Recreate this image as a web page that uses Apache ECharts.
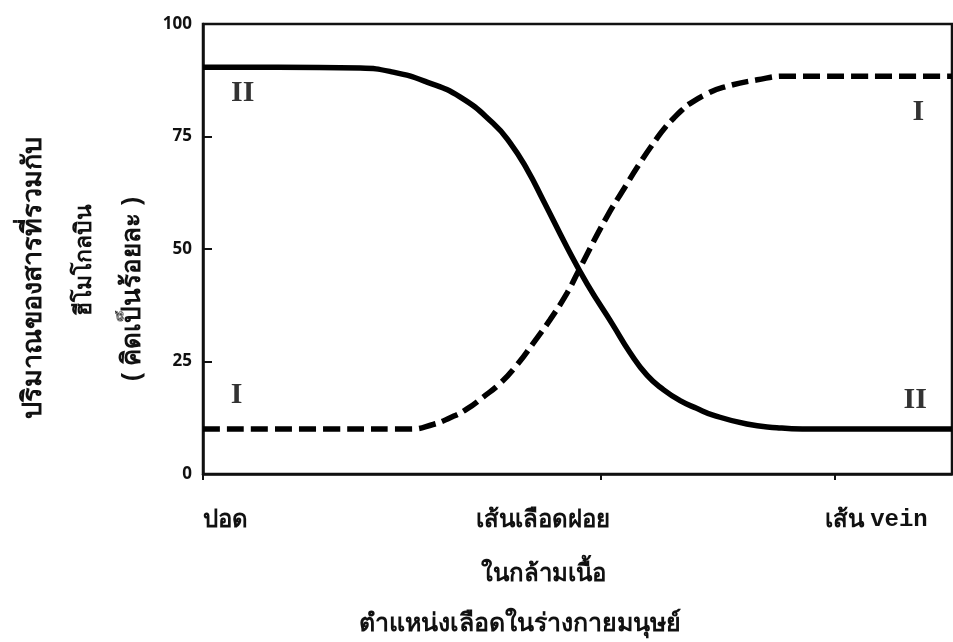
<!DOCTYPE html>
<html>
<head>
<meta charset="utf-8">
<script src="https://cdn.jsdelivr.net/npm/echarts@6/dist/echarts.min.js"></script>
<style>
html,body{margin:0;padding:0;background:#fff;}
#chart{width:953px;height:642px;}
</style>
</head>
<body>
<div id="chart"></div>
<script>
// Curve II (solid): position along blood path (0-100) vs % bound to hemoglobin
const curveII_x = [0, 10, 21.0, 25.4, 29.9, 34.3, 38.7, 41.0, 43.3, 45.4, 48.6, 51.3, 54.7, 57.0, 59.3, 61.5, 63.7, 65.9, 68.1, 72.6, 76.6, 80, 100];
const curveII_y = [90.4, 90.4, 90.2, 89.3, 87.1, 83.8, 78.0, 73.6, 67.6, 60.9, 50.4, 42.2, 33.2, 27.0, 21.9, 18.7, 16.3, 14.6, 13.1, 11.1, 10.3, 10.0, 10.0];
// Curve I (dashed)
const curveI_x = [0, 15, 27.6, 30.7, 33, 35.2, 37.4, 39.7, 41.9, 44.1, 46.3, 48.6, 50.1, 53.9, 56.1, 58.3, 60.6, 61.7, 62.8, 63.9, 65.0, 67.3, 69.4, 74.0, 78.0, 100];
const curveI_y = [10.0, 10.0, 10.0, 11.0, 12.5, 14.4, 17.1, 20.2, 24.2, 29.1, 34.2, 40.2, 45.0, 57.1, 63.1, 69.0, 74.6, 77.0, 79.0, 80.8, 82.3, 84.5, 85.9, 87.6, 88.4, 88.4];
// Curve tags
const tagText = ['II', 'I', 'I', 'II'];
const tagX = [5.3, 95.5, 4.5, 95.1];
const tagY = [84.7, 80.4, 17.6, 16.4];
// Axis labels
const xLabelValues = [3, 45.4, 89.9];
const xLabels = ['{t|ปอด}', '{t|เส้นเลือดฝอย}\n{t|ในกล้ามเนื้อ}', '{t|เส้น }{m|vein}'];
const xTickValues = [0, 53.1, 84.4];
const yTicks = [0, 25, 50, 75, 100];
const yTitleLines = ['ปริมาณของสารที่รวมกับ', 'ฮีโมโกลบิน', '( คิดเป็นร้อยละ )'];
const xTitle = 'ตำแหน่งเลือดในร่างกายมนุษย์';

const FONT = '"Noto Sans", "DejaVu Sans", sans-serif';
const INK = '#111';

const chart = echarts.init(document.getElementById('chart'));
chart.setOption({
  animation: false,
  backgroundColor: '#fff',
  grid: {left: 203, right: 1, top: 24, bottom: 168, show: true, borderColor: INK, borderWidth: 2.5, backgroundColor: 'transparent'},
  title: {
    text: xTitle, left: 515, top: 606, textAlign: 'center',
    textStyle: {fontFamily: FONT, fontSize: 25, fontWeight: 'bold', color: INK}
  },
  graphic: yTitleLines.map((t, i) => ({
    type: 'text',
    x: [33, 84, 133][i], y: [278, 260, 289][i],
    rotation: Math.PI / 2,
    style: {text: t, fill: INK, font: 'bold ' + [27, 23, 26][i] + 'px ' + FONT, textAlign: 'center', textVerticalAlign: 'middle'}
  })),
  xAxis: {
    type: 'value', min: 0, max: 100,
    splitLine: {show: false},
    axisLine: {show: true, lineStyle: {color: INK, width: 2.5}},
    axisTick: {show: true, customValues: xTickValues, length: 6, lineStyle: {color: INK, width: 2}},
    axisLabel: {
      customValues: xLabelValues,
      formatter: v => { const i = xLabelValues.indexOf(v); return i >= 0 ? xLabels[i] : ''; },
      margin: 19, lineHeight: 54,
      rich: {
        t: {fontFamily: FONT, fontSize: 24, fontWeight: 'bold', color: INK, lineHeight: 54},
        m: {fontFamily: '"Liberation Mono", "DejaVu Sans Mono", monospace', fontSize: 24, fontWeight: 'bold', color: INK, lineHeight: 54}
      }
    }
  },
  yAxis: {
    type: 'value', min: 0, max: 100, interval: 25,
    splitLine: {show: false},
    axisLine: {show: true, lineStyle: {color: INK, width: 2.5}},
    axisTick: {show: true, inside: true, length: 9, lineStyle: {color: INK, width: 2}},
    axisLabel: {
      margin: 11, fontFamily: FONT, fontSize: 17, fontWeight: 'bold', color: INK,
      formatter: v => yTicks.includes(v) ? String(v) : ''
    }
  },
  series: [
    {
      type: 'line', name: 'II', smooth: 0.5, symbol: 'none',
      data: curveII_x.map((x, i) => [x, curveII_y[i]]),
      lineStyle: {color: '#000', width: 5.5, type: 'solid'}
    },
    {
      type: 'line', name: 'I', smooth: 0.5, symbol: 'none',
      data: curveI_x.map((x, i) => [x, curveI_y[i]]),
      lineStyle: {color: '#000', width: 5.5, type: [17, 7]}
    },
    {
      type: 'scatter', symbolSize: 0, silent: true,
      data: tagX.map((x, i) => ({value: [x, tagY[i]], label: {formatter: tagText[i]}})),
      label: {
        show: true, position: 'inside',
        fontFamily: '"Liberation Serif", "DejaVu Serif", serif', fontSize: 30, fontWeight: 'bold', color: '#000'
      }
    }
  ]
});
</script>
</body>
</html>
